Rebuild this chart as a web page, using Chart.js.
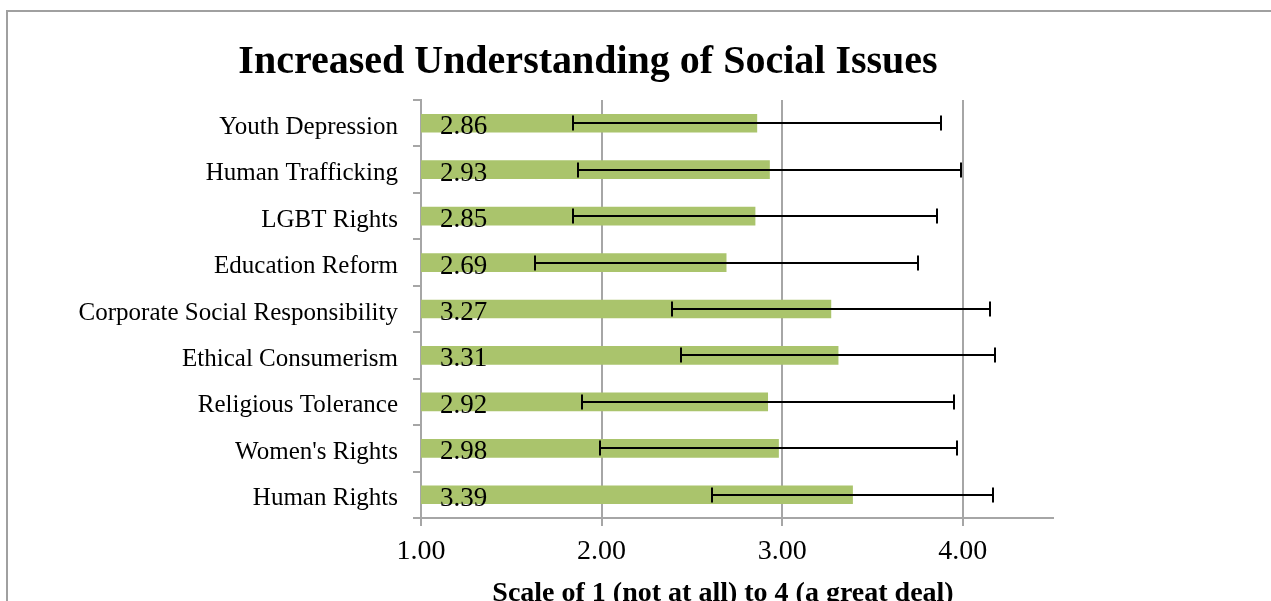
<!DOCTYPE html>
<html>
<head>
<meta charset="utf-8">
<script src="https://cdn.jsdelivr.net/npm/chart.js@4/dist/chart.umd.min.js"></script>
<style>
  html, body { margin: 0; padding: 0; background: #fff; }
  #wrap { position: relative; width: 1271px; height: 601px; overflow: hidden; }
</style>
</head>
<body>
<div id="wrap"><canvas id="chart" width="1271" height="601"></canvas></div>
<script>
const CATEGORIES = [
  'Youth Depression',
  'Human Trafficking',
  'LGBT Rights',
  'Education Reform',
  'Corporate Social Responsibility',
  'Ethical Consumerism',
  'Religious Tolerance',
  "Women's Rights",
  'Human Rights'
]
const MEANS = [2.86, 2.93, 2.85, 2.69, 3.27, 3.31, 2.92, 2.98, 3.39]
const ERRORS = [1.02, 1.06, 1.01, 1.06, 0.88, 0.87, 1.03, 0.99, 0.78]
const X_MIN = 1
const X_MAX = 4.5
const TITLE = 'Increased Understanding of Social Issues'
const X_TITLE = 'Scale of 1 (not at all) to 4 (a great deal)'

const SERIF = "'Liberation Serif', 'Times New Roman', serif"
const GRAY = '#a6a6a6'

// frame, titles, value labels and error bars
const extrasPlugin = {
  id: 'extras',
  beforeDraw: (chart) => {
    const { ctx } = chart
    ctx.save()
    ctx.strokeStyle = '#a0a0a0'
    ctx.lineWidth = 2
    ctx.beginPath()
    ctx.moveTo(7, 700)
    ctx.lineTo(7, 11)
    ctx.lineTo(1400, 11)
    ctx.stroke()
    ctx.restore()
  },
  afterDatasetsDraw: (chart) => {
    const { ctx } = chart
    const xScale = chart.scales.x
    const bars = chart.getDatasetMeta(0).data
    const x0 = xScale.getPixelForValue(X_MIN)

    ctx.save()
    ctx.fillStyle = '#000'
    ctx.font = `27px ${SERIF}`
    ctx.textAlign = 'left'
    ctx.textBaseline = 'alphabetic'
    bars.forEach((bar, i) => {
      ctx.fillText(MEANS[i].toFixed(2), x0 + 19, bar.y + 11)
    })

    ctx.strokeStyle = '#000'
    ctx.lineWidth = 2
    bars.forEach((bar, i) => {
      const lo = Math.round(xScale.getPixelForValue(MEANS[i] - ERRORS[i]))
      const hi = Math.round(xScale.getPixelForValue(MEANS[i] + ERRORS[i]))
      const y = Math.round(bar.y)
      ctx.beginPath()
      ctx.moveTo(lo, y)
      ctx.lineTo(hi, y)
      ctx.moveTo(lo, y - 7.5)
      ctx.lineTo(lo, y + 7.5)
      ctx.moveTo(hi, y - 7.5)
      ctx.lineTo(hi, y + 7.5)
      ctx.stroke()
    })
    ctx.restore()
  },
  afterDraw: (chart) => {
    const { ctx } = chart
    ctx.save()
    ctx.fillStyle = '#000'
    ctx.textAlign = 'center'
    ctx.textBaseline = 'alphabetic'
    ctx.font = `bold 40px ${SERIF}`
    ctx.fillText(TITLE, 588, 73)
    ctx.font = `bold 28px ${SERIF}`
    ctx.fillText(X_TITLE, 723, 601)
    ctx.restore()
  }
}

const CONFIG = {
  type: 'bar',
  data: {
    labels: CATEGORIES,
    datasets: [
      {
        data: MEANS,
        backgroundColor: '#aac46c',
        borderWidth: 0,
        barThickness: 18
      }
    ]
  },
  options: {
    indexAxis: 'y',
    responsive: false,
    animation: false,
    layout: {
      padding: { top: 100, right: 218, left: 0, bottom: 0 }
    },
    plugins: {
      legend: { display: false },
      title: { display: false },
      tooltip: { enabled: false }
    },
    scales: {
      x: {
        type: 'linear',
        min: X_MIN,
        max: X_MAX,
        afterFit: (scale) => { scale.height = 83 },
        border: { color: GRAY, width: 2 },
        grid: {
          color: GRAY,
          lineWidth: 2,
          tickLength: 8,
          drawOnChartArea: true
        },
        ticks: {
          stepSize: 1,
          includeBounds: false,
          padding: 9,
          color: '#000',
          font: { family: SERIF, size: 28 },
          callback: (v) => Number(v).toFixed(2)
        }
      },
      y: {
        afterFit: (scale) => { scale.width = 421 },
        border: { color: GRAY, width: 2 },
        grid: {
          color: GRAY,
          lineWidth: 2,
          tickLength: 8,
          offset: true,
          drawOnChartArea: false
        },
        ticks: {
          padding: 15,
          labelOffset: 4,
          color: '#000',
          font: { family: SERIF, size: 25 }
        }
      }
    }
  },
  plugins: [extrasPlugin]
}

// eslint-disable-next-line no-unused-vars
const chart = new Chart(document.getElementById('chart'), CONFIG)
</script>
</body>
</html>
